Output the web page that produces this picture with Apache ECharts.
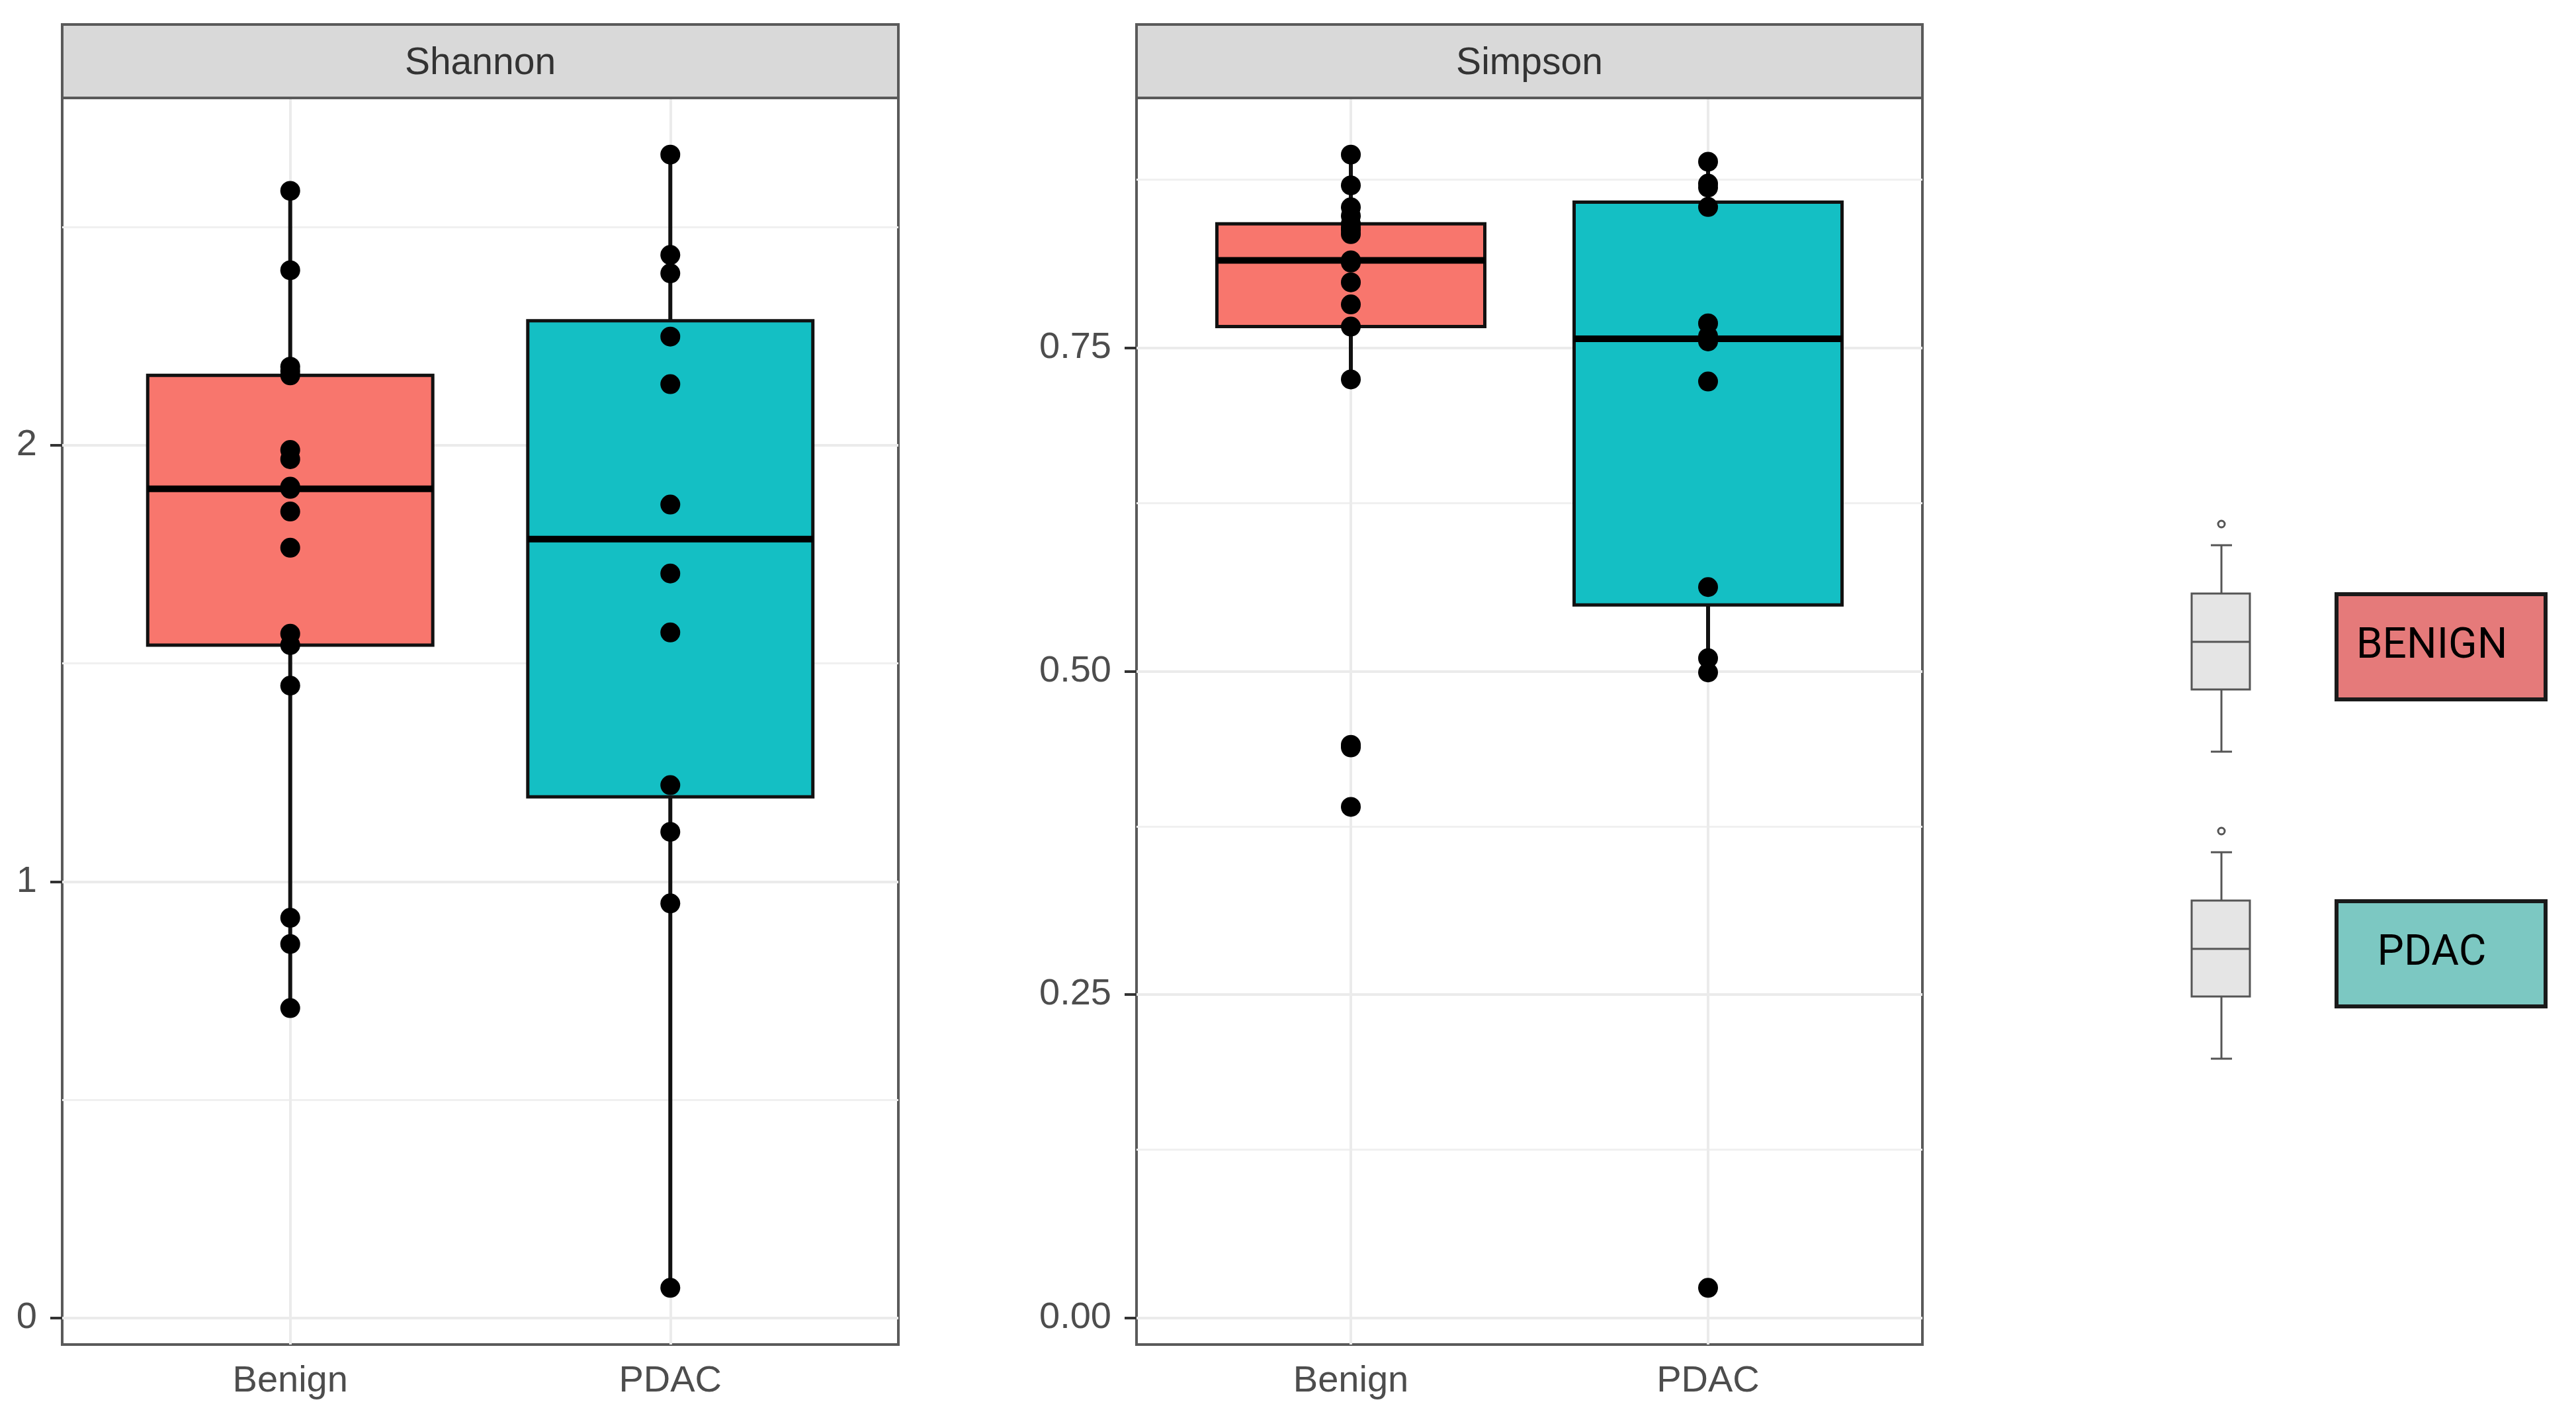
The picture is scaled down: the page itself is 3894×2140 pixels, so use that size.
<!DOCTYPE html>
<html>
<head>
	<meta charset="utf-8">
	<title>Alpha diversity boxplots</title>
	<style>
		html, body { margin: 0; padding: 0; background: #fff; }
	</style>
</head>
<body>
<script type="text/javascript" src="https://cdn.jsdelivr.net/npm/echarts@6/dist/echarts.min.js"></script>
<div id="container" style="width: 3894px;height: 2140px;"></div>
<script type="text/javascript">
    // groups and panels
    var groups = ['Benign', 'PDAC'];
    var panels = ['Shannon', 'Simpson'];
    var boxColors = ['#F8766D', '#14BFC4'];

    // values, one per sample
    var shannonBenign = [2.583, 2.401, 2.180, 2.170, 2.160, 1.989, 1.968, 1.905, 1.900, 1.848, 1.765, 1.568, 1.542, 1.449, 0.917, 0.857, 0.710];
    var shannonPdac = [2.666, 2.436, 2.394, 2.249, 2.140, 1.864, 1.706, 1.571, 1.221, 1.114, 0.950, 0.069];
    var simpsonBenign = [0.8995, 0.8757, 0.8587, 0.852, 0.846, 0.843, 0.841, 0.838, 0.8177, 0.816, 0.8007, 0.7836, 0.7665, 0.7256, 0.443, 0.441, 0.395];
    var simpsonPdac = [0.894, 0.877, 0.874, 0.859, 0.769, 0.759, 0.755, 0.724, 0.565, 0.510, 0.499, 0.023];

    // tick labels
    var shannonTicks = [0, 1, 2];
    var shannonMinor = [0.5, 1.5, 2.5];
    var simpsonTicks = [0, 0.25, 0.5, 0.75];
    var simpsonMinor = [0.125, 0.375, 0.625, 0.875];

    // legend
    var legendNames = ['BENIGN', 'PDAC'];
    var legendColors = ['#E57A7A', '#7CC8C2'];

    var panelData = [[shannonBenign, shannonPdac], [simpsonBenign, simpsonPdac]];
    var panelTicks = [shannonTicks, simpsonTicks];
    var panelMinor = [shannonMinor, simpsonMinor];
    var panelDigits = [0, 2];

    // panel geometry (px)
    var gridBox = [
        { left: 94, top: 148, width: 1264, height: 1884 },
        { left: 1718, top: 148, width: 1188, height: 1884 }
    ];

    // R type 7 quantile, as ggplot uses
    function quantile(asc, p) {
        var h = (asc.length - 1) * p;
        var lo = Math.floor(h);
        var e = h - lo;
        return e ? asc[lo] + e * (asc[lo + 1] - asc[lo]) : asc[lo];
    }
    function boxStats(values) {
        var asc = values.slice().sort(function (a, b) { return a - b; });
        var q1 = quantile(asc, 0.25), md = quantile(asc, 0.5), q3 = quantile(asc, 0.75);
        var iqr = q3 - q1;
        var inside = asc.filter(function (v) { return v >= q1 - 1.5 * iqr && v <= q3 + 1.5 * iqr; });
        return [inside[0], q1, md, q3, inside[inside.length - 1]];
    }

    function renderBox(params, api) {
        var x = api.value(0);
        var lo = api.coord([x, api.value(1)]);
        var q1 = api.coord([x, api.value(2)]);
        var md = api.coord([x, api.value(3)]);
        var q3 = api.coord([x, api.value(4)]);
        var hi = api.coord([x, api.value(5)]);
        var half = api.size([0.75, 0])[0] / 2;
        return {
            type: 'group',
            children: [
                { type: 'line', shape: { x1: lo[0], y1: lo[1], x2: hi[0], y2: hi[1] },
                  style: { stroke: '#111', lineWidth: 6 } },
                { type: 'rect', shape: { x: q3[0] - half, y: q3[1], width: half * 2, height: q1[1] - q3[1] },
                  style: { fill: boxColors[params.dataIndex], stroke: '#111', lineWidth: 5 } },
                { type: 'line', shape: { x1: md[0] - half, y1: md[1], x2: md[0] + half, y2: md[1] },
                  style: { stroke: '#000', lineWidth: 10 } }
            ]
        };
    }

    var grids = [], xAxes = [], yAxes = [], series = [], graphics = [];

    panels.forEach(function (name, i) {
        var all = panelData[i][0].concat(panelData[i][1]);
        var mn = Math.min.apply(null, all), mx = Math.max.apply(null, all);
        var pad = (mx - mn) * 0.05;
        var g = gridBox[i];

        grids.push({ left: g.left, top: g.top, width: g.width, height: g.height,
            show: true, backgroundColor: '#fff', borderColor: '#5a5a5a', borderWidth: 4 });

        xAxes.push({
            type: 'value', gridIndex: i, min: 0.4, max: 2.6,
            axisLine: { show: false },
            axisTick: { show: true, customValues: [1, 2], length: 19, lineStyle: { color: '#333', width: 4 } },
            axisLabel: { customValues: [1, 2], margin: 28, color: '#4d4d4d', fontSize: 56,
                fontFamily: 'Liberation Sans',
                formatter: function (v) { return groups[Math.round(v) - 1] || ''; } },
            splitLine: { show: false }
        });

        var digits = panelDigits[i];
        yAxes.push({
            type: 'value', gridIndex: i, min: mn - pad, max: mx + pad,
            axisLine: { show: false },
            axisTick: { show: true, customValues: panelTicks[i], length: 18, lineStyle: { color: '#333', width: 4 } },
            axisLabel: { customValues: panelTicks[i], margin: 38, color: '#4d4d4d', fontSize: 56,
                fontFamily: 'Liberation Sans',
                formatter: function (v) { return v.toFixed(digits); } },
            splitLine: { show: false }
        });

        // grid lines
        var lines = [];
        panelMinor[i].forEach(function (v) {
            lines.push({ yAxis: v, lineStyle: { color: '#f0f0f0', width: 3, type: 'solid' } });
        });
        panelTicks[i].forEach(function (v) {
            lines.push({ yAxis: v, lineStyle: { color: '#ebebeb', width: 4, type: 'solid' } });
        });
        [1, 2].forEach(function (v) {
            lines.push({ xAxis: v, lineStyle: { color: '#ebebeb', width: 4, type: 'solid' } });
        });
        series.push({
            type: 'line', xAxisIndex: i, yAxisIndex: i, data: [], z: 1, silent: true,
            markLine: { silent: true, symbol: ['none', 'none'], label: { show: false }, z: 1,
                animation: false, data: lines }
        });

        // boxes
        var boxes = panelData[i].map(function (vals, k) {
            return [k + 1].concat(boxStats(vals));
        });
        series.push({
            type: 'custom', xAxisIndex: i, yAxisIndex: i, z: 2,
            encode: { x: 0, y: [1, 2, 3, 4, 5] },
            renderItem: renderBox, data: boxes
        });

        // points
        panelData[i].forEach(function (vals, k) {
            series.push({
                type: 'scatter', xAxisIndex: i, yAxisIndex: i, z: 3,
                symbol: 'circle', symbolSize: 30,
                itemStyle: { color: '#000', opacity: 1 },
                data: vals.map(function (v) { return [k + 1, v]; })
            });
        });

        // facet strip
        graphics.push({
            type: 'rect', shape: { x: g.left, y: 37, width: g.width, height: g.top - 37 },
            style: { fill: '#d9d9d9', stroke: '#5a5a5a', lineWidth: 4 }, z: 10
        });
        graphics.push({
            type: 'text', x: g.left + g.width / 2, y: (37 + g.top) / 2 + 4, z: 11,
            style: { text: name, fill: '#333', font: '57px "Liberation Sans"', align: 'center', verticalAlign: 'middle' }
        });
    });

    // legend: boxplot glyph + coloured label
    legendNames.forEach(function (label, k) {
        var dy = k * 464;
        var cx = 3358;
        var st = { stroke: '#555', lineWidth: 3 };
        graphics.push({ type: 'circle', shape: { cx: cx, cy: 792 + dy, r: 5 }, style: { fill: '#fff', stroke: '#555', lineWidth: 3 } });
        graphics.push({ type: 'line', shape: { x1: cx - 16, y1: 824 + dy, x2: cx + 16, y2: 824 + dy }, style: st });
        graphics.push({ type: 'line', shape: { x1: cx, y1: 824 + dy, x2: cx, y2: 897 + dy }, style: st });
        graphics.push({ type: 'rect', shape: { x: 3313, y: 897 + dy, width: 88, height: 145 }, style: { fill: '#e5e5e5', stroke: '#555', lineWidth: 3 } });
        graphics.push({ type: 'line', shape: { x1: 3313, y1: 970 + dy, x2: 3401, y2: 970 + dy }, style: st });
        graphics.push({ type: 'line', shape: { x1: cx, y1: 1042 + dy, x2: cx, y2: 1136 + dy }, style: st });
        graphics.push({ type: 'line', shape: { x1: cx - 16, y1: 1136 + dy, x2: cx + 16, y2: 1136 + dy }, style: st });

        graphics.push({ type: 'rect', shape: { x: 3532, y: 898 + dy, width: 316, height: 159 },
            style: { fill: legendColors[k], stroke: '#1a1a1a', lineWidth: 6 } });
        graphics.push({ type: 'text', x: 3676, y: 978 + dy,
            style: { text: label, fill: '#000', font: '64px Roboto', align: 'center', verticalAlign: 'middle' } });
    });

    var myChart = echarts.init(document.getElementById('container'));
    var option = {
        animation: false,
        backgroundColor: '#fff',
        textStyle: { fontFamily: 'Liberation Sans' },
        grid: grids,
        xAxis: xAxes,
        yAxis: yAxes,
        series: series,
        graphic: graphics
    };
    myChart.setOption(option);
    window.addEventListener('resize', myChart.resize);
</script>
</body>
</html>
